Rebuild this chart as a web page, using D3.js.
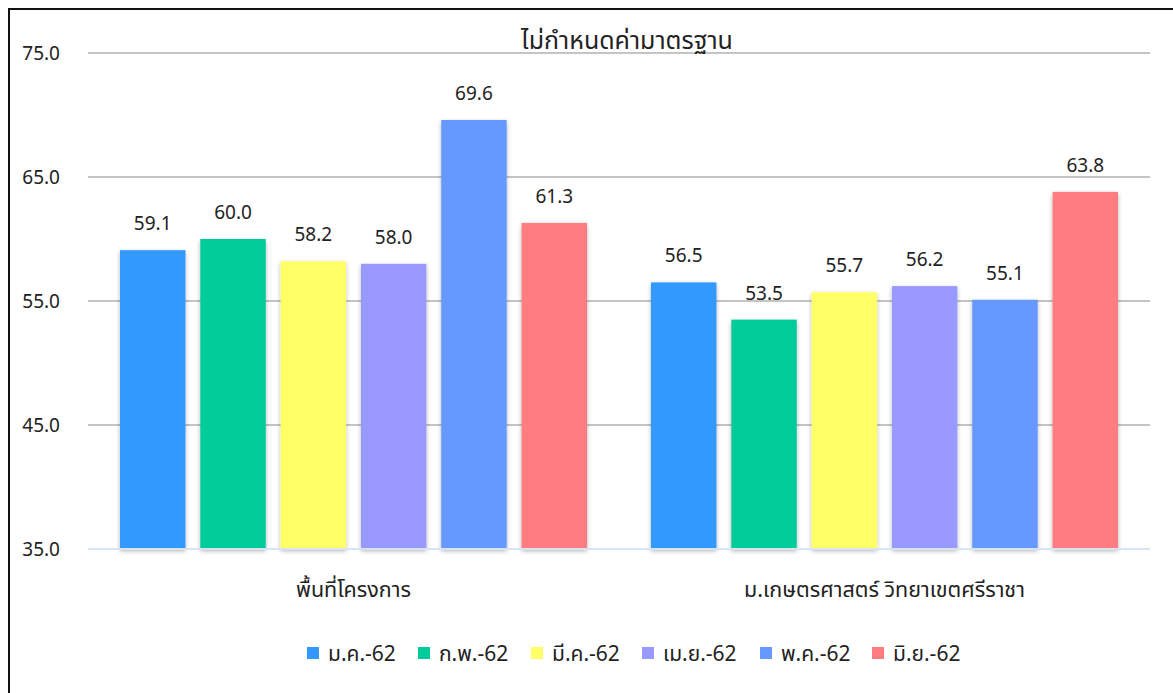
<!DOCTYPE html>
<html>
<head>
<meta charset="utf-8">
<script src="https://cdn.jsdelivr.net/npm/d3@7"></script>
<style>
	body { margin: 0; background: #fff; }
	text { font-family: "Noto Sans Thai", "Leelawadee UI", Tahoma, "Noto Sans", sans-serif; fill: #222; }
</style>
</head>
<body>
<script>
//chart data
let categories = ["พื้นที่โครงการ", "ม.เกษตรศาสตร์ วิทยาเขตศรีราชา"];
let months = ["ม.ค.-62", "ก.พ.-62", "มี.ค.-62", "เม.ย.-62", "พ.ค.-62", "มิ.ย.-62"];
let colors = ["#3399FF", "#00CC99", "#FFFF66", "#9999FF", "#6699FF", "#FF7C80"];
let site = [59.1, 60.0, 58.2, 58.0, 69.6, 61.3];
let campus = [56.5, 53.5, 55.7, 56.2, 55.1, 63.8];
let yTicks = [35, 45, 55, 65, 75];
let title = "ไม่กำหนดค่ามาตรฐาน";

let svg = d3.select("body").append("svg")
	.attr("width", 1173)
	.attr("height", 693);

let width = +svg.attr("width");
let height = +svg.attr("height");

//frame (only top and left edges visible in the reference)
svg.append("path")
	.attr("d", "M9,693 V9 H1173")
	.attr("fill", "none")
	.attr("stroke", "#111")
	.attr("stroke-width", 2);

let margin = { top: 53, right: 23, bottom: 144, left: 88 };
let innerWidth = width - margin.left - margin.right;
let innerHeight = height - margin.top - margin.bottom;

//drop shadow for bars
let defs = svg.append("defs");
let filter = defs.append("filter").attr("id", "shadow")
	.attr("x", "-20%").attr("y", "-10%").attr("width", "140%").attr("height", "130%");
filter.append("feDropShadow")
	.attr("dx", 0).attr("dy", 2)
	.attr("stdDeviation", 2)
	.attr("flood-color", "#000")
	.attr("flood-opacity", 0.3);

let g = svg.append("g")
	.attr("transform", `translate(${margin.left}, ${margin.top})`);

let scaleX = d3.scaleBand()
	.domain(categories)
	.range([0, innerWidth]);

let scaleInner = d3.scaleBand()
	.domain(months)
	.range([32, scaleX.bandwidth() - 32])
	.paddingInner(0.185);

let scaleY = d3.scaleLinear()
	.domain([35, 75])
	.range([innerHeight, 0]);

//gridlines
g.selectAll(".grid")
	.data(yTicks.slice(1))
	.enter().append("line")
	.attr("x1", 0)
	.attr("x2", innerWidth)
	.attr("y1", d => scaleY(d))
	.attr("y2", d => scaleY(d))
	.attr("stroke", "#c4c4c4")
	.attr("stroke-width", 2);

//y axis labels
let yAxis = d3.axisLeft(scaleY)
	.tickValues(yTicks)
	.tickSize(0)
	.tickPadding(28)
	.tickFormat(d3.format(".1f"));

let yG = g.append("g").call(yAxis);
yG.select(".domain").remove();
yG.selectAll("text")
	.attr("font-size", 19)
	.attr("fill", "#222");

//bars
let data = categories.map((c, i) => ({
	category: c,
	values: (i === 0 ? site : campus).map((v, j) => ({ month: months[j], value: v, color: colors[j] }))
}));

let groups = g.selectAll(".group")
	.data(data)
	.enter().append("g")
	.attr("transform", d => `translate(${scaleX(d.category)}, 0)`);

groups.selectAll("rect")
	.data(d => d.values)
	.enter().append("rect")
	.attr("x", d => scaleInner(d.month))
	.attr("width", scaleInner.bandwidth())
	.attr("y", d => scaleY(d.value))
	.attr("height", d => innerHeight - scaleY(d.value))
	.attr("fill", d => d.color)
	.attr("filter", "url(#shadow)");

groups.selectAll(".val")
	.data(d => d.values)
	.enter().append("text")
	.attr("class", "val")
	.attr("x", d => scaleInner(d.month) + scaleInner.bandwidth() / 2)
	.attr("y", d => scaleY(d.value) - 20)
	.attr("text-anchor", "middle")
	.attr("font-size", 19)
	.text(d => d3.format(".1f")(d.value));

//baseline
g.append("line")
	.attr("x1", 0)
	.attr("x2", innerWidth)
	.attr("y1", innerHeight)
	.attr("y2", innerHeight)
	.attr("stroke", "#d6e4f5")
	.attr("stroke-width", 2);

//category labels
g.selectAll(".cat")
	.data(categories)
	.enter().append("text")
	.attr("x", d => scaleX(d) + scaleX.bandwidth() / 2)
	.attr("y", innerHeight + 48)
	.attr("text-anchor", "middle")
	.attr("font-size", 21.5)
	.text(d => d);

//title
svg.append("text")
	.attr("x", 627)
	.attr("y", 49)
	.attr("text-anchor", "middle")
	.attr("font-size", 25)
	.text(title);

//legend
let legendX = [307, 418, 531, 642, 760, 872];
let legend = svg.append("g");
let items = legend.selectAll("g")
	.data(months)
	.enter().append("g")
	.attr("transform", (d, i) => `translate(${legendX[i]}, 647)`);

items.append("rect")
	.attr("width", 12)
	.attr("height", 12)
	.attr("fill", (d, i) => colors[i]);

items.append("text")
	.attr("x", 21)
	.attr("y", 14)
	.attr("font-size", 21)
	.text(d => d);
</script>
</body>
</html>
